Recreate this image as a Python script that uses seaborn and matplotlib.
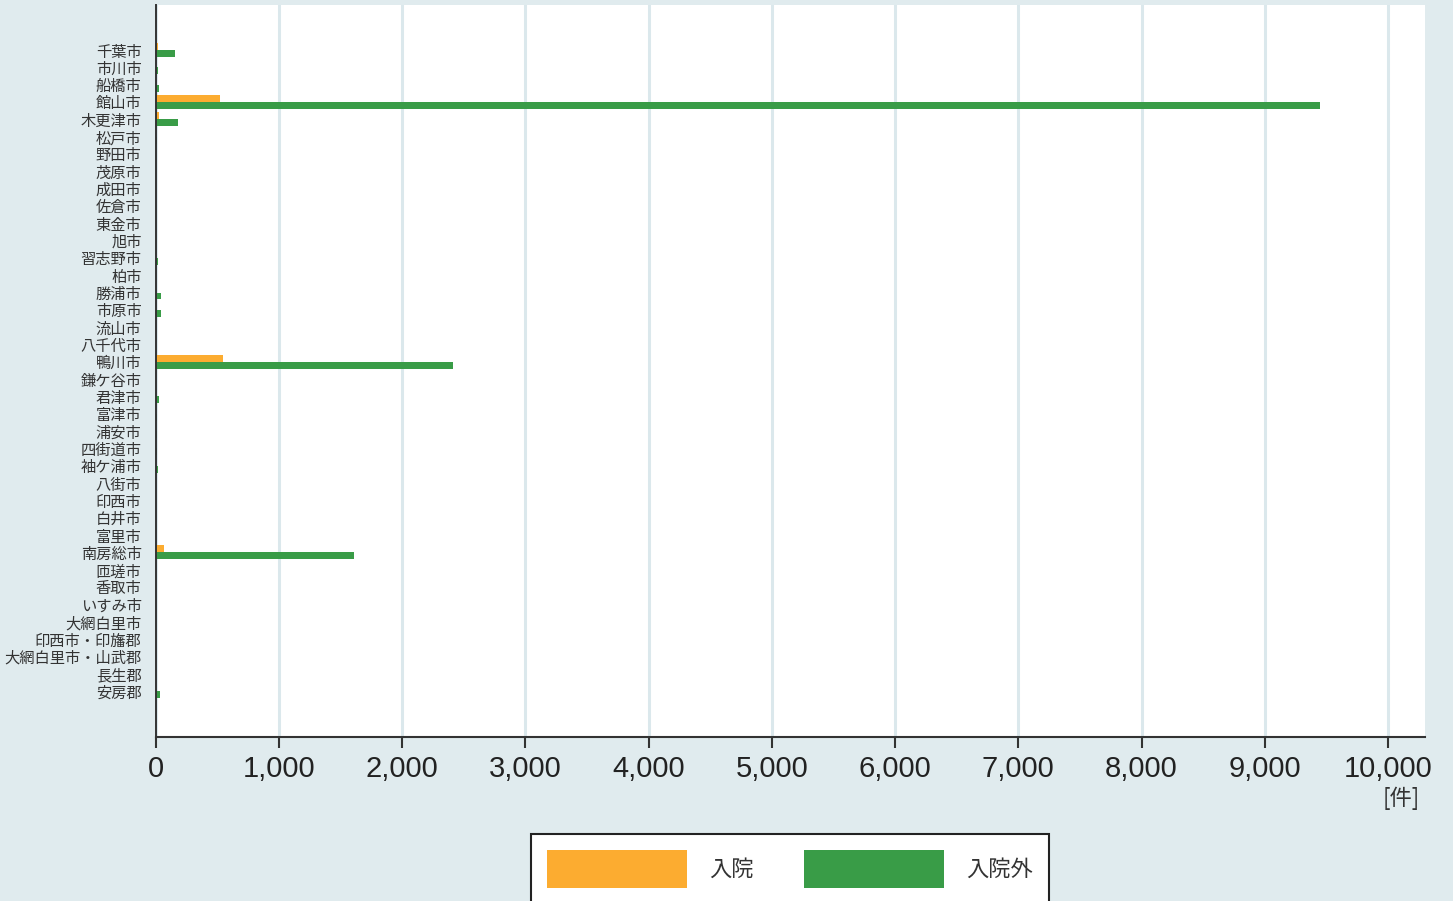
import pandas as pd
import seaborn as sns
import matplotlib.pyplot as plt
from matplotlib.ticker import FuncFormatter

# Data (件)
cities = ['千葉市', '市川市', '船橋市', '館山市', '木更津市', '松戸市', '野田市', '茂原市',
          '成田市', '佐倉市', '東金市', '旭市', '習志野市', '柏市', '勝浦市', '市原市',
          '流山市', '八千代市', '鴨川市', '鎌ケ谷市', '君津市', '富津市', '浦安市', '四街道市',
          '袖ケ浦市', '八街市', '印西市', '白井市', '富里市', '南房総市', '匝瑳市', '香取市',
          'いすみ市', '大網白里市', '印西市・印旛郡', '大網白里市・山武郡', '長生郡', '安房郡']
inpatient = [20, 0, 0, 525, 30, 0, 0, 0,
             0, 0, 0, 0, 0, 0, 0, 0,
             0, 0, 550, 0, 0, 0, 0, 0,
             0, 0, 0, 0, 0, 65, 0, 0,
             0, 0, 0, 0, 0, 0]
outpatient = [160, 20, 30, 9450, 185, 10, 0, 0,
              0, 0, 0, 0, 18, 0, 45, 45,
              0, 0, 2410, 0, 30, 12, 12, 10,
              18, 0, 0, 0, 0, 1610, 0, 0,
              0, 0, 0, 0, 0, 38]
series_names = ['入院', '入院外']
colors = ['#fcac30', '#399c47']

df = pd.DataFrame({
    'city': cities * 2,
    'count': inpatient + outpatient,
    'type': [series_names[0]] * len(cities) + [series_names[1]] * len(cities),
})

bg = '#e0ebee'
sns.set_theme(style='white')
plt.rcParams['font.family'] = ['Noto Sans CJK JP', 'DejaVu Sans']

fig = plt.figure(figsize=(14.53, 9.01), dpi=100, facecolor=bg)
ax = fig.add_axes([155.5 / 1453, 1 - 737 / 901, (1425 - 155.5) / 1453, (737 - 5) / 901])
ax.set_facecolor('white')

sns.barplot(data=df, y='city', x='count', hue='type', orient='h',
            palette=colors, order=cities, hue_order=series_names,
            width=0.8, saturation=1, ax=ax, zorder=3, legend=True,
            linewidth=0)

ax.set_xlim(0, 10300)
ax.set_ylim(39.66, -2.6)
ax.set_xticks(range(0, 10001, 1000))
ax.xaxis.set_major_formatter(FuncFormatter(lambda v, p: f'{int(v):,}'))
ax.grid(axis='x', color='#dbe8ec', linewidth=2.2, zorder=0)
ax.grid(axis='y', visible=False)
ax.set_axisbelow(True)

for s in ['top', 'right']:
    ax.spines[s].set_visible(False)
ax.spines['left'].set_color('#333333')
ax.spines['left'].set_linewidth(1.4)
ax.spines['left'].set_zorder(5)
ax.spines['bottom'].set_color('#333333')
ax.spines['bottom'].set_linewidth(1.5)

ax.tick_params(axis='x', direction='out', length=8, width=1.5, color='#333333',
               labelsize=21, labelcolor='#222222', pad=5, bottom=True)
ax.tick_params(axis='y', length=0, labelsize=11, labelcolor='#333333', pad=10)
for lbl in ax.get_xticklabels():
    lbl.set_fontfamily(['Liberation Sans', 'DejaVu Sans'])

ax.set_xlabel('')
ax.set_ylabel('')
fig.text(1401 / 1453, 1 - 798 / 901, '[件]', ha='center', va='center',
         fontsize=16, color='#333333')

ax.get_legend().remove()
handles, labels = ax.get_legend_handles_labels()
leg = fig.legend(handles, labels, loc='upper center', ncol=2,
                 bbox_to_anchor=(790 / 1453, 1 - 834 / 901),
                 frameon=True, fancybox=False, framealpha=1, fontsize=16,
                 handlelength=6.3, handleheight=2.25, handletextpad=1.0,
                 columnspacing=2.3, borderpad=0.7, borderaxespad=0)
leg.get_frame().set_edgecolor('#222222')
leg.get_frame().set_linewidth(1.5)
leg.get_frame().set_facecolor('white')
for t in leg.get_texts():
    t.set_color('#333333')

fig.savefig('out.png', dpi=100, facecolor=bg)
